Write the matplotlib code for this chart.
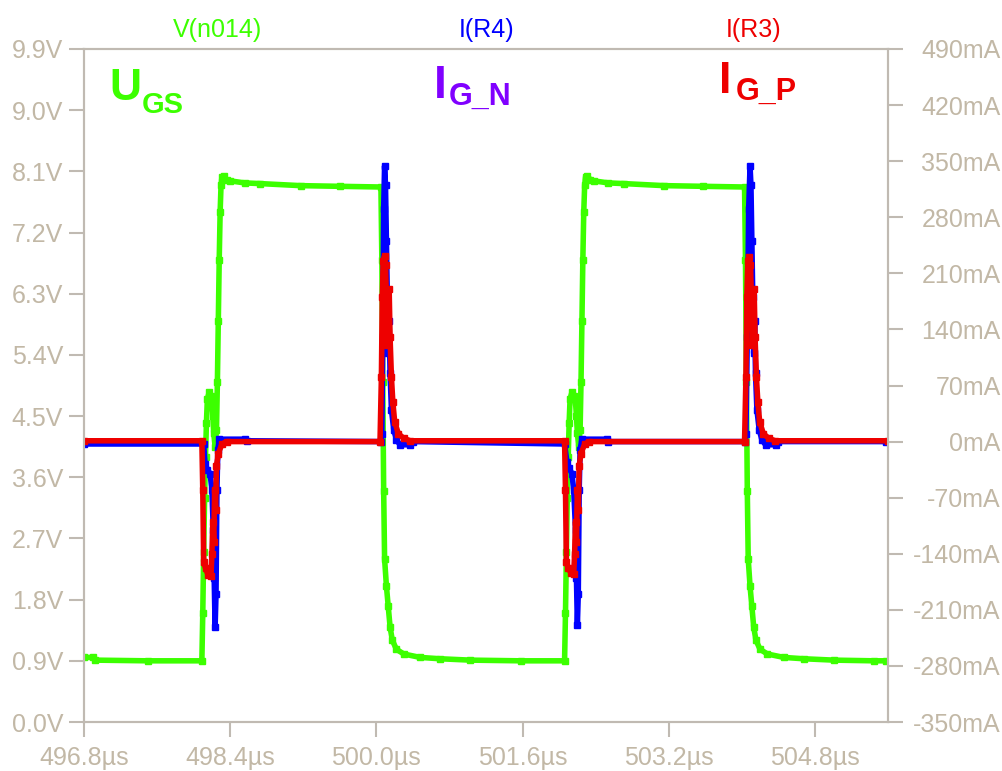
import numpy as np
import matplotlib
matplotlib.use("Agg")
import matplotlib.pyplot as plt

plt.rcParams['font.family'] = ['Liberation Sans', 'DejaVu Sans']

# V(n014) - gate-source voltage (V)
t_v = [496.80, 496.90, 496.92, 497.50, 498.09,
       498.10, 498.11, 498.12, 498.13, 498.14, 498.15, 498.17, 498.19, 498.20, 498.21,
       498.22, 498.235, 498.25, 498.26, 498.27, 498.28, 498.29, 498.30, 498.31, 498.33,
       498.36, 498.40, 498.56, 498.73, 499.17, 499.60, 500.05,
       500.06, 500.07, 500.08, 500.09, 500.11, 500.13, 500.15, 500.175, 500.22, 500.30,
       500.48, 500.70, 501.03, 501.58, 502.06,
       502.07, 502.08, 502.09, 502.10, 502.11, 502.12, 502.14, 502.16, 502.18, 502.19,
       502.20, 502.215, 502.23, 502.24, 502.25, 502.26, 502.27, 502.28, 502.29, 502.31,
       502.34, 502.38, 502.54, 502.71, 503.15, 503.58, 504.03,
       504.04, 504.05, 504.06, 504.07, 504.09, 504.11, 504.13, 504.155, 504.20, 504.28,
       504.46, 504.68, 505.01, 505.45, 505.58]
v_gs = [0.95, 0.95, 0.91, 0.90, 0.90,
        1.6, 2.5, 3.3, 3.9, 4.4, 4.75, 4.85, 4.8, 4.7, 4.5,
        4.25, 4.05, 4.3, 5.0, 5.9, 6.8, 7.5, 7.9, 8.02, 8.03,
        7.98, 7.96, 7.93, 7.92, 7.89, 7.88, 7.87,
        6.8, 5.0, 3.4, 2.4, 2.0, 1.7, 1.4, 1.2, 1.07, 1.0,
        0.95, 0.93, 0.91, 0.90, 0.90,
        1.6, 2.5, 3.3, 3.9, 4.4, 4.75, 4.85, 4.8, 4.7, 4.5,
        4.25, 4.05, 4.3, 5.0, 5.9, 6.8, 7.5, 7.9, 8.02, 8.03,
        7.98, 7.96, 7.93, 7.92, 7.89, 7.88, 7.87,
        6.8, 5.0, 3.4, 2.4, 2.0, 1.7, 1.4, 1.2, 1.07, 1.0,
        0.95, 0.93, 0.91, 0.90, 0.90]

# I(R4) - gate current N (mA)
t_r4 = [496.80, 498.11, 498.125, 498.15, 498.18, 498.20, 498.215, 498.225, 498.235, 498.245,
        498.255, 498.265, 498.28, 498.56, 498.58, 500.05,
        500.06, 500.07, 500.08, 500.09, 500.10, 500.11, 500.12, 500.13, 500.14, 500.15,
        500.165, 500.19, 500.22, 500.26, 500.37, 500.40, 502.06,
        502.085, 502.11, 502.14, 502.16, 502.18, 502.19, 502.20, 502.21, 502.22, 502.23,
        502.25, 502.52, 502.54, 504.03,
        504.045, 504.06, 504.075, 504.09, 504.10, 504.11, 504.12, 504.13, 504.14, 504.15,
        504.165, 504.19, 504.22, 504.26, 504.37, 504.40, 505.58]
i_r4 = [-3, -3, -28, -35, -40, -60, -110, -170, -232, -190,
        -60, -10, 3, 3, 1, 0,
        10, 130, 290, 344, 320, 250, 180, 110, 150, 85,
        40, 15, 2, -4, -4, 0, -3,
        -25, -33, -40, -60, -110, -170, -229, -190, -60, -10,
        3, 3, 0, 0,
        10, 130, 290, 344, 320, 250, 180, 110, 150, 85,
        40, 15, 2, -4, -4, 0, 0]

# I(R3) - gate current P (mA)
t_r3 = [496.80, 498.09, 498.10, 498.11, 498.13, 498.16, 498.19, 498.20, 498.21, 498.22,
        498.23, 498.24, 498.25, 498.27, 498.31, 498.36, 500.04,
        500.055, 500.065, 500.075, 500.09, 500.10, 500.11, 500.12, 500.13, 500.14, 500.15,
        500.165, 500.18, 500.20, 500.24, 500.30, 500.37, 502.06,
        502.07, 502.08, 502.10, 502.13, 502.16, 502.17, 502.18, 502.19, 502.20, 502.21,
        502.22, 502.24, 502.28, 502.33, 504.03,
        504.045, 504.055, 504.065, 504.08, 504.095, 504.105, 504.115, 504.125, 504.135, 504.145,
        504.16, 504.175, 504.195, 504.235, 504.295, 504.365, 505.60]
i_r3 = [1, 1, -60, -150, -158, -167, -168, -140, -100, -125,
        -60, -85, -30, -15, -3, 0, 0,
        80, 180, 225, 232, 220, 180, 120, 150, 190, 130,
        80, 50, 25, 10, 4, 1, 1,
        -60, -150, -158, -164, -165, -140, -100, -125, -60, -85,
        -30, -15, -3, 0, 0,
        80, 180, 225, 230, 220, 180, 120, 150, 190, 130,
        80, 50, 25, 10, 4, 1, 1]

x_ticks = [496.8, 498.4, 500.0, 501.6, 503.2, 504.8]
v_ticks = [0.0, 0.9, 1.8, 2.7, 3.6, 4.5, 5.4, 6.3, 7.2, 8.1, 9.0, 9.9]
i_ticks = [-350, -280, -210, -140, -70, 0, 70, 140, 210, 280, 350, 420, 490]

GREEN = '#3cff00'
BLUE = '#0000ff'
RED = '#ee0000'
PURPLE = '#8000ff'
TICKC = '#c2b8a6'
SPINEC = '#c0bab2'
FS = 18

fig = plt.figure(figsize=(10.03, 7.71), dpi=100)
fig.patch.set_facecolor('white')
ax = fig.add_axes([84/1003, 49/771, 804/1003, 673/771])
ax2 = ax.twinx()

ax.plot(t_v, v_gs, color=GREEN, lw=4, marker='s', ms=4.5)
ax2.plot(t_r4, i_r4, color=BLUE, lw=4, marker='s', ms=4.5)
ax2.plot(t_r3, i_r3, color=RED, lw=4, marker='s', ms=4.5)

ax.set_xlim(496.8, 505.6)
ax.set_ylim(0, 9.9)
ax2.set_ylim(-350, 490)

ax.set_xticks(x_ticks)
ax.set_xticklabels([f"{x:.1f}µs" for x in x_ticks])
ax.set_yticks(v_ticks)
ax.set_yticklabels([f"{v:.1f}V" for v in v_ticks])
ax2.set_yticks(i_ticks)
ax2.set_yticklabels([f"{i}mA" for i in i_ticks])

for a in (ax, ax2):
    for s in a.spines.values():
        s.set_color(SPINEC)
        s.set_linewidth(1.5)
    a.tick_params(colors=SPINEC, labelcolor=TICKC, labelsize=FS, length=11, width=1.5)
ax.tick_params(axis='y', pad=4)
ax.tick_params(axis='x', pad=6)
ax2.tick_params(axis='y', pad=70)
for lab in ax2.get_yticklabels():
    lab.set_horizontalalignment('right')

def fx(px):
    return px / 1003

def fy(py):
    return 1 - py / 771

# trace names above the plot
fig.text(fx(218), fy(37), "V(n014)", color=GREEN, fontsize=FS, ha='center', va='baseline')
fig.text(fx(487), fy(37), "I(R4)", color=BLUE, fontsize=FS, ha='center', va='baseline')
fig.text(fx(754), fy(37), "I(R3)", color=RED, fontsize=FS, ha='center', va='baseline')

# big annotations
fig.text(fx(109), fy(100), "U", color=GREEN, fontsize=32, fontweight='bold', va='baseline')
fig.text(fx(142), fy(113), "GS", color=GREEN, fontsize=21, fontweight='bold', va='baseline')
fig.text(fx(434), fy(98), "I", color=PURPLE, fontsize=33, fontweight='bold', va='baseline')
fig.text(fx(449), fy(105), "G_N", color=PURPLE, fontsize=22, fontweight='bold', va='baseline')
fig.text(fx(719), fy(93), "I", color=RED, fontsize=32, fontweight='bold', va='baseline')
fig.text(fx(736), fy(100), "G_P", color=RED, fontsize=22, fontweight='bold', va='baseline')

fig.savefig('out.png', dpi=100, facecolor='white')
